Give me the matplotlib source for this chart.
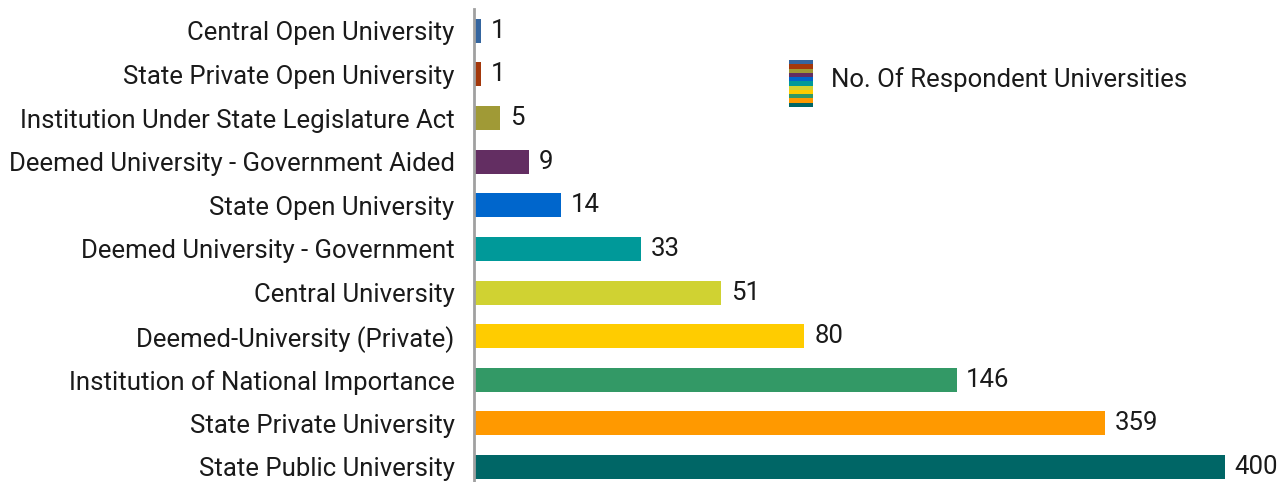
import matplotlib.pyplot as plt
from matplotlib.patches import Rectangle
from matplotlib.legend_handler import HandlerBase

# categories from bottom to top
categories = [
    "State Public University",
    "State Private University",
    "Institution of National Importance",
    "Deemed-University (Private)",
    "Central University",
    "Deemed University - Government",
    "State Open University",
    "Deemed University - Government Aided",
    "Institution Under State Legislature Act",
    "State Private Open University",
    "Central Open University",
]
counts = [400, 359, 146, 80, 51, 33, 14, 9, 5, 1, 1]
# the bars in the source are not drawn to scale; lengths as shown,
# expressed in units where the longest bar equals 400
bar_lengths = [400, 336, 257, 176, 131.5, 89, 46.3, 29.3, 13.8, 3.7, 3.7]
colors = ["#006666", "#FF9900", "#339966", "#FFCC00", "#D0D232", "#009999",
          "#0066CC", "#632E62", "#A09A36", "#A3380B", "#34659F"]
series_name = "No. Of Respondent Universities"


class StripeHandler(HandlerBase):
    def create_artists(self, legend, orig_handle, xdescent, ydescent,
                       width, height, fontsize, trans):
        n = len(colors)
        total = height * 47 / 37  # the swatch hangs below the text line
        h = total / n
        top = -ydescent + height
        arts = []
        # top stripe is the top bar's colour
        for i, c in enumerate(reversed(colors)):
            y = top - (i + 1) * h
            r = Rectangle((-xdescent, y), width, h, facecolor=c,
                          edgecolor="none", transform=trans)
            arts.append(r)
        return arts


def main():
    plt.rcParams['font.family'] = ['Roboto', 'DejaVu Sans']
    W, H = 1288, 482
    fs = 18.5
    fig = plt.figure(figsize=(W / 100, H / 100), dpi=100)
    ax = fig.add_axes([474 / W, 0, 1 - 474 / W, (H - 9) / H])

    y = list(range(len(categories)))
    ax.barh(y, bar_lengths, height=0.55, color=colors)
    for yi, L, c in zip(y, bar_lengths, counts):
        ax.annotate(str(c), (L, yi), xytext=(7, 0), textcoords="offset points",
                    va="center", ha="left", fontsize=fs, color="#1a1a1a")

    ax.set_xlim(0, 400 * 814 / 751)
    ax.set_ylim(-0.344, 10.5)
    ax.set_yticks(y)
    ax.set_yticklabels(categories, fontsize=fs, color="#1a1a1a")
    ax.tick_params(axis="y", length=0, pad=14)
    ax.set_xticks([])
    for s in ["top", "right", "bottom"]:
        ax.spines[s].set_visible(False)
    ax.spines["left"].set_color("#A0A0A0")
    ax.spines["left"].set_linewidth(2)

    handle = Rectangle((0, 0), 1, 1)
    fig.legend([handle], [series_name], handler_map={Rectangle: StripeHandler()},
               loc="upper left", bbox_to_anchor=(789 / W, 1 - 60 / H),
               frameon=False, fontsize=fs, borderpad=0, borderaxespad=0,
               handlelength=0.93, handleheight=1.83, handletextpad=0.7,
               labelcolor="#1a1a1a")

    fig.savefig("out.png", dpi=100)


if __name__ == "__main__":
    main()
